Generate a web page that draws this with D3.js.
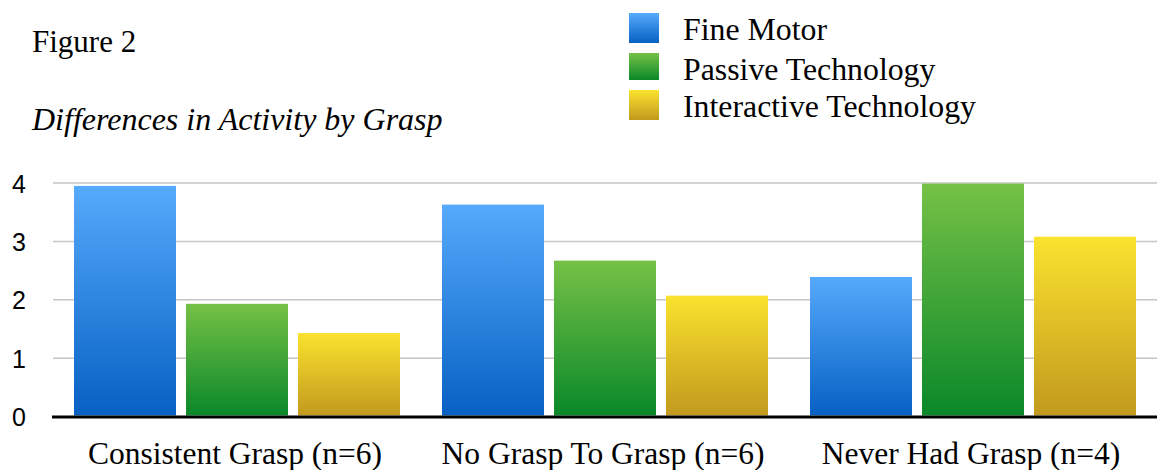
<!DOCTYPE html>
<html>
<head>
<meta charset="utf-8">
<script src="https://cdn.jsdelivr.net/npm/d3@7"></script>
<style>
  html, body { margin: 0; padding: 0; background: #fff; }
  svg { display: block; }
  .ytick text { font-size: 25px !important; font-family: 'Liberation Sans', Arial, sans-serif; }
</style>
</head>
<body>
<svg id="chart" width="1157" height="470"></svg>
<script>
const categories = ["Consistent Grasp (n=6)", "No Grasp To Grasp (n=6)", "Never Had Grasp (n=4)"];
const seriesNames = ["Fine Motor", "Passive Technology", "Interactive Technology"];
const fineMotor = [3.95, 3.63, 2.39];
const passiveTech = [1.93, 2.67, 3.99];
const interactiveTech = [1.43, 2.07, 3.08];
const yTicks = [0, 1, 2, 3, 4];
const titleText = "Figure 2";
const subtitleText = "Differences in Activity by Grasp";

const seriesValues = [fineMotor, passiveTech, interactiveTech];
const gradStops = [
  ["#56aafc", "#0761c3"],
  ["#75c146", "#0a8829"],
  ["#fae22e", "#c29a1e"]
];

const svg = d3.select("#chart");
const defs = svg.append("defs");
gradStops.forEach((g, i) => {
  const lg = defs.append("linearGradient").attr("id", "g" + i)
    .attr("x1", 0).attr("y1", 0).attr("x2", 0).attr("y2", 1);
  lg.append("stop").attr("offset", "0%").attr("stop-color", g[0]);
  lg.append("stop").attr("offset", "100%").attr("stop-color", g[1]);
});

const x0 = d3.scaleBand().domain(categories).range([53, 1157])
  .paddingInner(42 / 368).paddingOuter(21 / 368);
const x1 = d3.scaleBand().domain(seriesNames).range([0, x0.bandwidth()])
  .paddingInner(10 / 112).paddingOuter(0);
const y = d3.scaleLinear().domain([0, 4]).range([416.5, 183]);

// y tick labels
const yAxis = d3.axisLeft(y).tickValues(yTicks).tickSize(0).tickFormat(d3.format("d"));
const ga = svg.append("g").attr("class", "ytick").attr("transform", "translate(26,0)").call(yAxis);
ga.select(".domain").remove();
ga.selectAll("text").attr("x", 0).attr("dy", "0.36em").attr("fill", "#000");

// gridlines
svg.append("g").selectAll("line").data(yTicks.filter(d => d > 0)).join("line")
  .attr("x1", 53).attr("x2", 1157)
  .attr("y1", d => y(d)).attr("y2", d => y(d))
  .attr("stroke", "#c6c6c6").attr("stroke-width", 1.5);

// bars
const groups = svg.append("g").selectAll("g").data(categories).join("g")
  .attr("transform", d => `translate(${x0(d)},0)`);
groups.selectAll("rect").data((c, ci) => seriesNames.map((s, si) => ({ s, si, v: seriesValues[si][ci] })))
  .join("rect")
  .attr("x", d => x1(d.s))
  .attr("width", x1.bandwidth())
  .attr("y", d => y(d.v))
  .attr("height", d => y(0) - y(d.v) - 1)
  .attr("fill", d => `url(#g${d.si})`);

// baseline
svg.append("line").attr("x1", 52).attr("x2", 1157)
  .attr("y1", y(0) + 0.5).attr("y2", y(0) + 0.5)
  .attr("stroke", "#000").attr("stroke-width", 3);

// x labels
const xAxis = d3.axisBottom(x0).tickSize(0);
const gx = svg.append("g").attr("transform", `translate(0,${y(0)})`).call(xAxis)
  .attr("font-size", 31.5).attr("font-family", "'Liberation Serif', 'Times New Roman', serif");
gx.select(".domain").remove();
gx.selectAll("text").attr("y", 0).attr("dy", 0).attr("transform", "translate(-2,47)")
  .attr("fill", "#000");

// titles
svg.append("text").attr("x", 32).attr("y", 52).text(titleText)
  .attr("font-family", "'Liberation Serif', 'Times New Roman', serif").attr("font-size", 31);
svg.append("text").attr("x", 32).attr("y", 130).text(subtitleText)
  .attr("font-family", "'Liberation Serif', 'Times New Roman', serif").attr("font-size", 32).attr("font-style", "italic");

// legend
const legendY = [13, 53, 90];
const legend = svg.append("g").selectAll("g").data(seriesNames).join("g")
  .attr("transform", (d, i) => `translate(629,${legendY[i]})`);
legend.append("rect").attr("width", 30).attr("height", (d, i) => i === 1 ? 27 : 30)
  .attr("fill", (d, i) => `url(#g${i})`);
legend.append("text").attr("x", 54).attr("y", 27).text(d => d)
  .attr("font-family", "'Liberation Serif', 'Times New Roman', serif").attr("font-size", 31.8);
</script>
</body>
</html>
